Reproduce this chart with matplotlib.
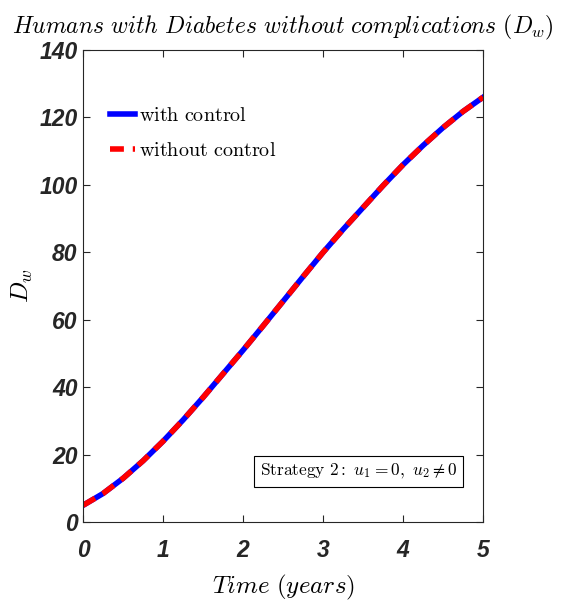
import matplotlib
matplotlib.use('Agg')
import matplotlib.pyplot as plt
import numpy as np

plt.rcParams['mathtext.fontset'] = 'cm'

# values
time = [0, 0.25, 0.5, 0.75, 1.0, 1.25, 1.5, 1.75, 2.0, 2.25, 2.5, 2.75,
        3.0, 3.25, 3.5, 3.75, 4.0, 4.25, 4.5, 4.75, 5.0]
dw_control = [5.0, 8.5, 13.0, 18.2, 24.0, 30.3, 37.0, 44.0, 51.0, 58.2, 65.5, 72.8,
              80.0, 86.8, 93.3, 99.8, 106.0, 111.7, 117.0, 121.8, 126.0]
dw_no_control = dw_control
x_ticks = [0, 1, 2, 3, 4, 5]
y_ticks = [0, 20, 40, 60, 80, 100, 120, 140]

fig = plt.figure(figsize=(5.69, 6.10), dpi=100)
ax = fig.add_axes([0.146, 0.144, 0.703, 0.774])

ax.plot(time, dw_control, color='blue', lw=4, label=r'$\mathrm{with\ control}$')
ax.plot(time, dw_no_control, color='red', lw=4, linestyle=(0, (2.5, 1.6)),
        label=r'$\mathrm{without\ control}$')

ax.set_xlim(0, 5)
ax.set_ylim(0, 140)
ax.set_xticks(x_ticks)
ax.set_yticks(y_ticks)
tick_font = dict(family=['Liberation Sans', 'DejaVu Sans'], weight='bold',
                 style='italic', size=16.5)
ax.set_xticklabels([str(v) for v in x_ticks], **tick_font)
ax.set_yticklabels([str(v) for v in y_ticks], **tick_font)
ax.tick_params(direction='in', top=True, right=True, length=5, width=0.8,
               colors='#262626', labelcolor='#262626')
ax.tick_params(axis='x', pad=12)
ax.tick_params(axis='y', pad=4)
for s in ax.spines.values():
    s.set_color('#262626')
    s.set_linewidth(0.8)

ax.set_title(r'$Humans\ with\ Diabetes\ without\ complications\ (D_w)$',
             fontsize=17, pad=12)
ax.set_xlabel(r'$Time\ (years)$', fontsize=18, labelpad=8)
ax.set_ylabel(r'$D_w$', fontsize=18)
ax.yaxis.set_label_coords(-0.12, 0.5)

ax.legend(loc='upper left', bbox_to_anchor=(0.022, 0.92), frameon=False,
          fontsize=14.5, handlelength=1.25, handletextpad=0.2, labelspacing=0.8)

ax.text(0.935, 0.108, r'$\mathrm{Strategy\ 2:}\ u_1=0,\ u_2\neq 0$', transform=ax.transAxes,
        ha='right', va='center', fontsize=12.5,
        bbox=dict(boxstyle='square,pad=0.35', fc='white', ec='black', lw=0.8))

fig.savefig('out.png', dpi=100)
